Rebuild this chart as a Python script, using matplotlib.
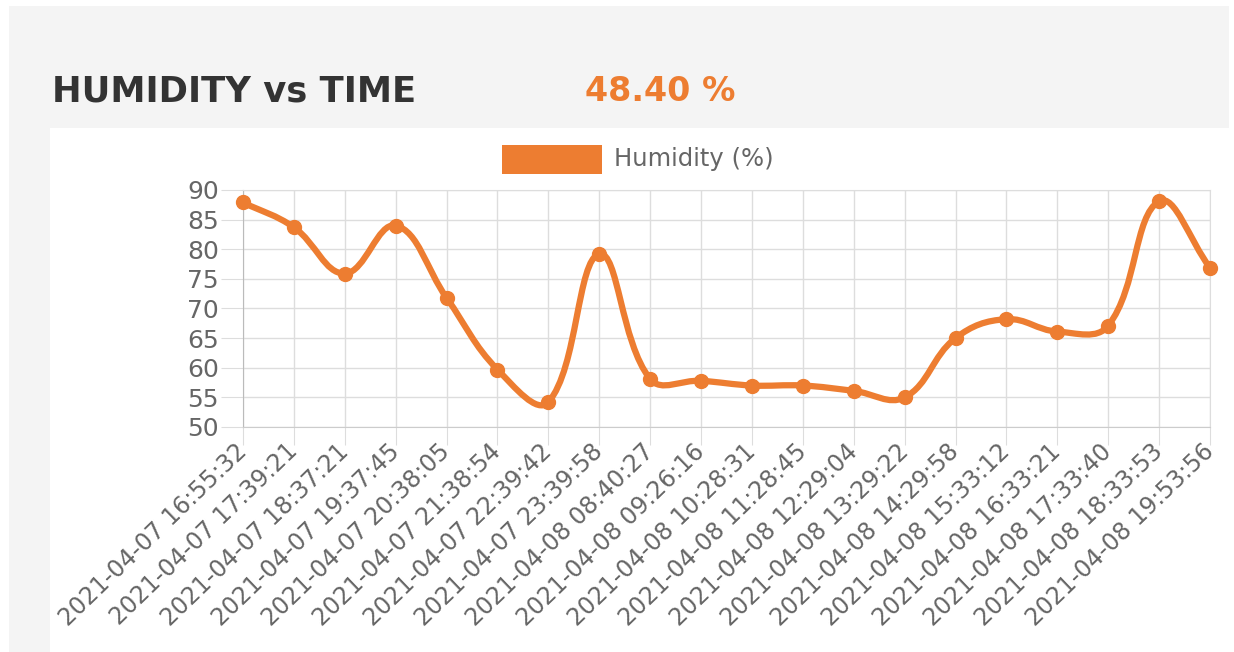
import numpy as np
import matplotlib.pyplot as plt
from matplotlib.patches import Rectangle, PathPatch
from matplotlib.path import Path

# data
times = ['2021-04-07 16:55:32', '2021-04-07 17:39:21', '2021-04-07 18:37:21',
         '2021-04-07 19:37:45', '2021-04-07 20:38:05', '2021-04-07 21:38:54',
         '2021-04-07 22:39:42', '2021-04-07 23:39:58', '2021-04-08 08:40:27',
         '2021-04-08 09:26:16', '2021-04-08 10:28:31', '2021-04-08 11:28:45',
         '2021-04-08 12:29:04', '2021-04-08 13:29:22', '2021-04-08 14:29:58',
         '2021-04-08 15:33:12', '2021-04-08 16:33:21', '2021-04-08 17:33:40',
         '2021-04-08 18:33:53', '2021-04-08 19:53:56']
humidity = [87.9, 83.7, 75.9, 84.0, 71.8, 59.7, 54.2, 79.2, 58.1, 57.8,
            57.0, 57.0, 56.1, 55.0, 65.0, 68.2, 66.1, 67.1, 88.1, 76.9]
y_ticks = [50, 55, 60, 65, 70, 75, 80, 85, 90]
current = '48.40 %'

orange = '#ed7d31'
grey_txt = '#666666'
W, H = 1234, 652

fig = plt.figure(figsize=(W / 100, H / 100), dpi=100, facecolor='#f4f4f4')

# white page edges + white card behind the chart
def bg_rect(x0, y0, x1, y1):
    # pixel box (top-left origin) -> figure patch
    fig.patches.append(Rectangle((x0 / W, 1 - y1 / H), (x1 - x0) / W, (y1 - y0) / H,
                                 transform=fig.transFigure, facecolor='white',
                                 edgecolor='none', zorder=-5))

bg_rect(0, 0, W, 6)
bg_rect(0, 0, 9, H)
bg_rect(1229, 0, W, H)
bg_rect(50, 128, 1229, H)

fig.text(52 / W, 1 - 101 / H, 'HUMIDITY vs TIME', fontsize=25.5, fontweight='bold',
         color='#333333', va='baseline', ha='left')
fig.text(585 / W, 1 - 101 / H, current, fontsize=24, fontweight='bold',
         color=orange, va='baseline', ha='left')

ax = fig.add_axes([243 / W, 1 - 427 / H, (1210 - 243) / W, (427 - 190) / H])
ax.set_facecolor('white')

x = np.arange(len(times))
ax.set_xlim(0, len(times) - 1)
ax.set_ylim(50, 90)
ax.set_yticks(y_ticks)
ax.set_xticks(x)
ax.set_xticklabels(times, rotation=44, ha='right', va='center',
                   rotation_mode='anchor', fontsize=17, color=grey_txt)
ax.tick_params(axis='y', labelsize=18, labelcolor=grey_txt, length=16,
               color='#dddddd', pad=1.5)
ax.tick_params(axis='x', length=13, color='#dddddd', pad=2)
ax.grid(True, color='#dddddd', lw=1)
ax.set_axisbelow(True)
for s in ['top', 'right']:
    ax.spines[s].set_color('#dddddd')
ax.spines['left'].set_color('#bbbbbb')
ax.spines['bottom'].set_color('#cccccc')

# chart.js style bezier (tension 0.4), computed in pixel space
pts = ax.transData.transform(np.column_stack([x, humidity]))
t = 0.4
verts = [pts[0]]
codes = [Path.MOVETO]
cps = []
for i in range(len(pts)):
    p0 = pts[i - 1] if i > 0 else pts[i]
    p1 = pts[i]
    p2 = pts[i + 1] if i < len(pts) - 1 else pts[i]
    d01 = np.hypot(*(p1 - p0))
    d12 = np.hypot(*(p2 - p1))
    s01 = d01 / (d01 + d12) if d01 + d12 > 0 else 0
    s12 = d12 / (d01 + d12) if d01 + d12 > 0 else 0
    cps.append((p1 - t * s01 * (p2 - p0), p1 + t * s12 * (p2 - p0)))
for i in range(1, len(pts)):
    verts += [cps[i - 1][1], cps[i][0], pts[i]]
    codes += [Path.CURVE4] * 3
verts = ax.transData.inverted().transform(np.array(verts))
ax.add_patch(PathPatch(Path(verts, codes), facecolor='none', edgecolor=orange,
                       lw=4.5, capstyle='round', joinstyle='round', zorder=3,
                       clip_on=False))
ax.plot(x, humidity, 'o', color=orange, ms=10, zorder=4, clip_on=False)

# legend
fig.patches.append(Rectangle((502 / W, 1 - 174 / H), 100 / W, 29 / H,
                             transform=fig.transFigure, facecolor=orange,
                             edgecolor='none'))
fig.text(614 / W, 1 - 159 / H, 'Humidity (%)', fontsize=17.5, color=grey_txt,
         va='center', ha='left')

fig.savefig('out.png', dpi=100, facecolor=fig.get_facecolor())
